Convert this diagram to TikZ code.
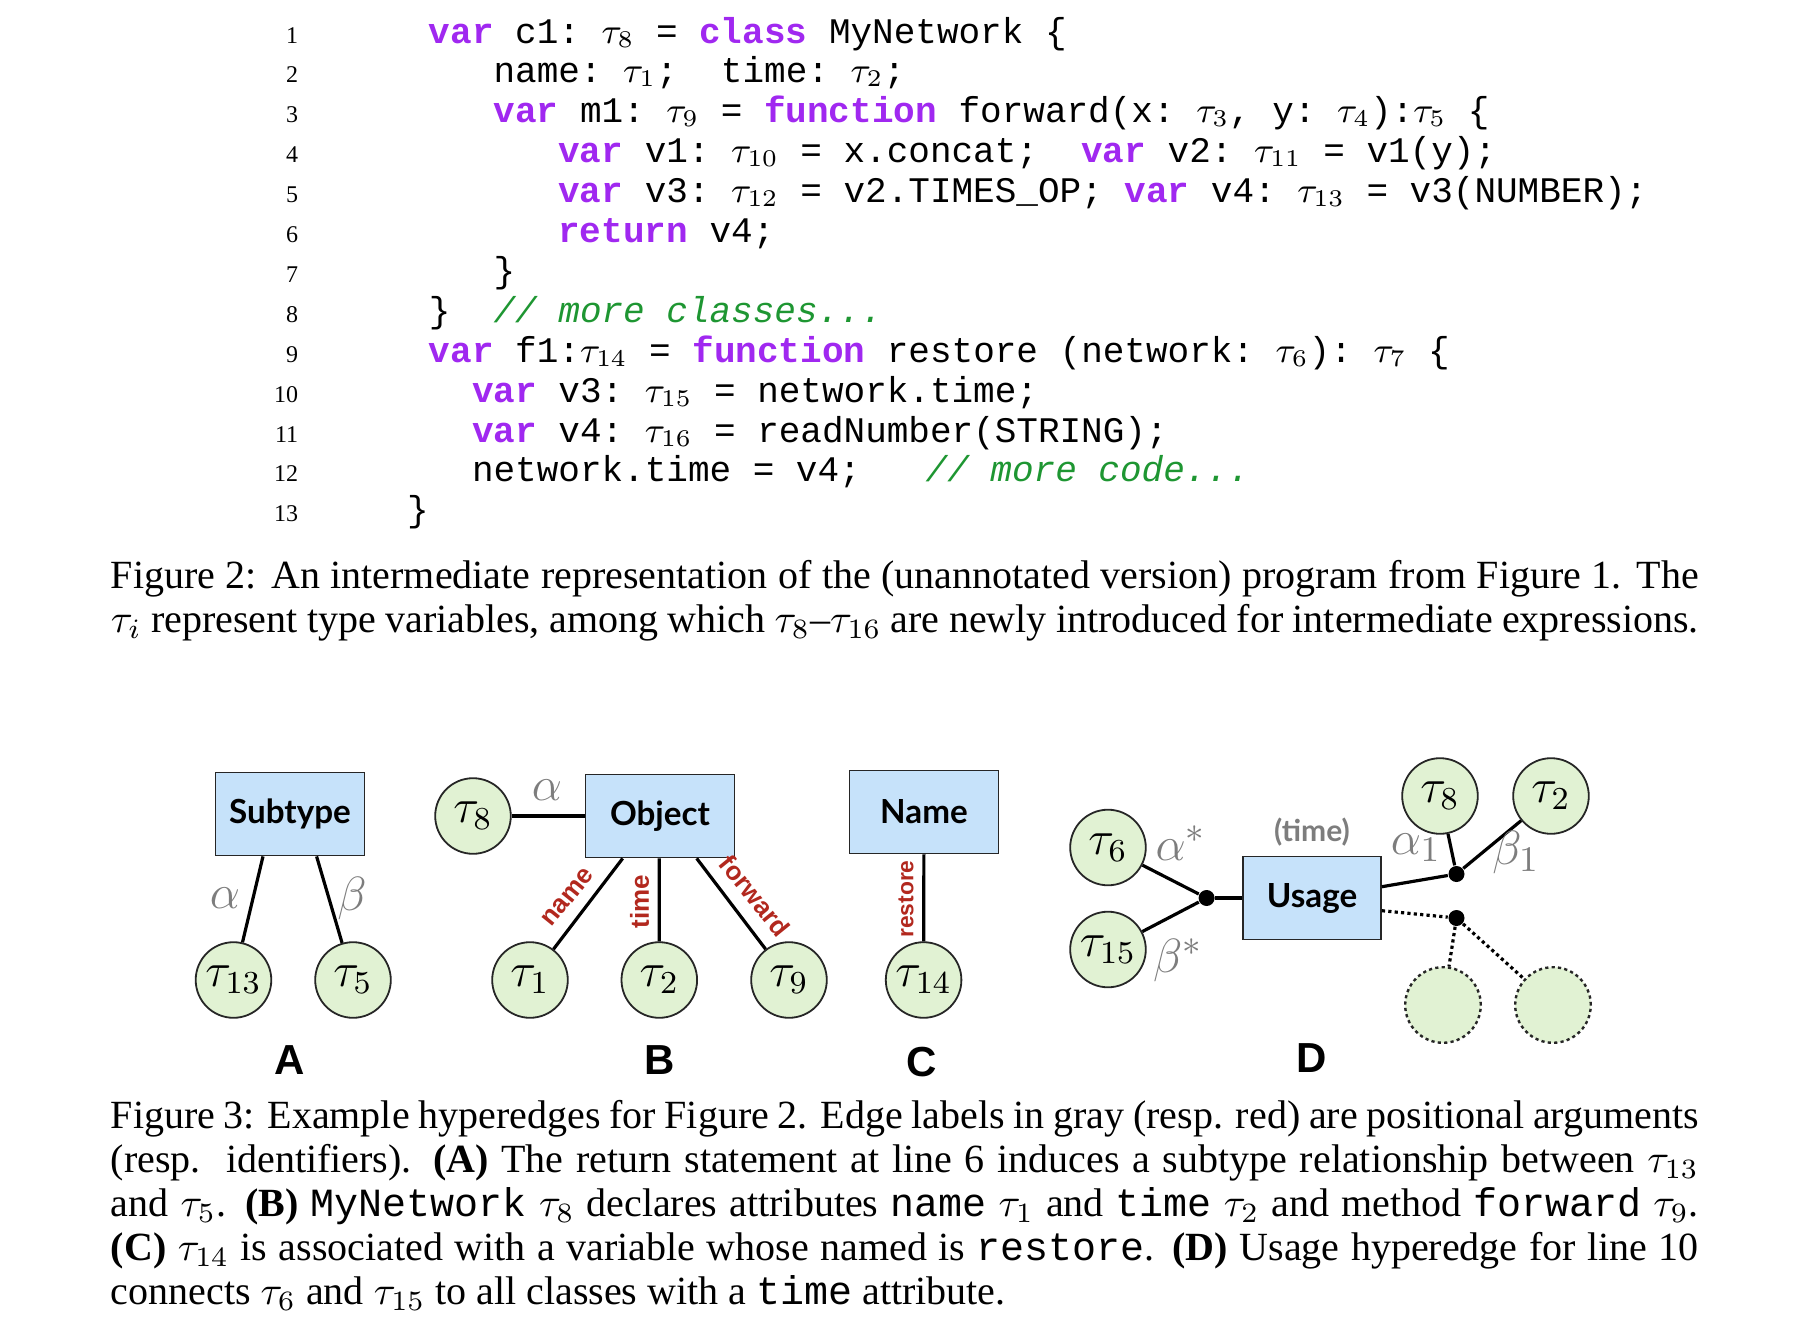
\documentclass[tikz,border=0pt]{standalone}
\usepackage{fontspec}
\setmainfont{Liberation Serif}
\setmonofont{Liberation Mono}
\newfontfamily\diagfont{Lato}
\newfontfamily\helv{Liberation Sans}
\usetikzlibrary{calc}
\definecolor{kwpurple}{RGB}{160,40,240}
\definecolor{cmtgreen}{RGB}{30,150,50}
\definecolor{lblred}{RGB}{178,40,30}
\definecolor{boxblue}{RGB}{198,226,250}
\definecolor{tvgreen}{RGB}{225,242,211}
\definecolor{lblgray}{RGB}{125,125,125}
\newcommand{\kw}[1]{\textcolor{kwpurple}{\textbf{#1}}}
\newcommand{\cmt}[1]{\textcolor{cmtgreen}{\textit{#1}}}
\begin{document}
\begin{tikzpicture}[x=0.25pt,y=-0.25pt,
 codeline/.style={anchor=base west,inner sep=0,font=\fontsize{9}{10}\ttfamily},
 lnum/.style={anchor=base east,inner sep=0,font=\fontsize{6}{7}\selectfont},
 capline/.style={anchor=base west,inner sep=0,font=\fontsize{10}{11}\selectfont},
 hbox/.style={draw=black!85,line width=0.45pt,fill=boxblue,minimum width=37.25pt,minimum height=20.75pt,inner sep=0,font=\diagfont\bfseries\fontsize{8.3}{9}\selectfont},
 tv/.style={circle,draw=black!85,line width=0.45pt,fill=tvgreen,minimum size=18.9pt,inner sep=0,font=\fontsize{12}{12}\selectfont},
 ghost/.style={circle,draw=black!85,line width=0.6pt,dash pattern=on 0.8pt off 0.8pt,fill=tvgreen,minimum size=18.9pt,inner sep=0},
 hedge/.style={line width=0.8pt},
 dedge/.style={line width=0.8pt,dash pattern=on 0.8pt off 0.8pt},
 hdot/.style={circle,fill=black,inner sep=0,minimum size=4pt},
 glbl/.style={text=lblgray,inner sep=0,font=\fontsize{13}{13}\selectfont},
 rlbl/.style={text=lblred,inner sep=0,font=\helv\bfseries\fontsize{6.5}{7}\selectfont},
 tlbl/.style={text=lblgray,inner sep=0,font=\diagfont\bfseries\fontsize{7.5}{8}\selectfont},
 panel/.style={inner sep=0,font=\helv\bfseries\fontsize{10.5}{11}\selectfont},
]
\useasboundingbox (0,0) rectangle (1804,1318);

% ---- code listing ----
\node[lnum] (n1) at (299,43.0) {1};
\node[lnum] (n2) at (299,82.9) {2};
\node[lnum] (n3) at (299,122.8) {3};
\node[lnum] (n4) at (299,162.7) {4};
\node[lnum] (n5) at (299,202.6) {5};
\node[lnum] (n6) at (299,242.5) {6};
\node[lnum] (n7) at (299,282.4) {7};
\node[lnum] (n8) at (299,322.3) {8};
\node[lnum] (n9) at (299,362.2) {9};
\node[lnum] (n10) at (299,402.1) {10};
\node[lnum] (n11) at (299,442.0) {11};
\node[lnum] (n12) at (299,481.9) {12};
\node[lnum] (n13) at (299,521.8) {13};

\node[codeline] (c1) at (428,43.0) {\kw{var} c1: $\tau_8$ = \kw{class} MyNetwork \{};
\node[codeline] (c2) at (492.8,82.9) {name: $\tau_1$;~ time: $\tau_2$;};
\node[codeline] (c3) at (492.8,122.8) {\kw{var} m1: $\tau_9$ = \kw{function} forward(x: $\tau_3$, y: $\tau_4$):$\tau_5$ \{};
\node[codeline] (c4) at (557.6,162.7) {\kw{var} v1: $\tau_{10}$ = x.concat;~ \kw{var} v2: $\tau_{11}$ = v1(y);};
\node[codeline] (c5) at (557.6,202.6) {\kw{var} v3: $\tau_{12}$ = v2.TIMES\_OP; \kw{var} v4: $\tau_{13}$ = v3(NUMBER);};
\node[codeline] (c6) at (557.6,242.5) {\kw{return} v4;};
\node[codeline] (c7) at (492.8,282.4) {\}};
\node[codeline] (c8) at (428,322.3) {\}~ \cmt{// more classes...}};
\node[codeline] (c9) at (428,362.2) {\kw{var} f1:$\tau_{14}$ = \kw{function} restore (network: $\tau_6$): $\tau_7$ \{};
\node[codeline] (c10) at (471.2,402.1) {\kw{var} v3: $\tau_{15}$ = network.time;};
\node[codeline] (c11) at (471.2,442.0) {\kw{var} v4: $\tau_{16}$ = readNumber(STRING);};
\node[codeline] (c12) at (471.2,481.9) {network.time = v4;~~ \cmt{// more code...}};
\node[codeline] (c13) at (406.4,521.8) {\}};

% ---- caption of Figure 2 ----
\node[capline] (f2a) at (110,588) {\makebox[397pt][s]{Figure 2: An intermediate representation of the (unannotated version) program from Figure 1. The}};
\node[capline] (f2b) at (110,632) {\makebox[397pt][s]{$\tau_i$ represent type variables, among which $\tau_8$--$\tau_{16}$ are newly introduced for intermediate expressions.}};

% ---- panel A ----
\node[hbox] (sub) at (290,814) {Subtype};
\node[tv] (t13) at (233.5,980) {$\tau_{13}$};
\node[tv] (t5) at (353,980) {$\tau_5$};
\draw[hedge] ($(sub.south)+(-27,0)$) -- (t13);
\draw[hedge] ($(sub.south)+(26.6,0)$) -- (t5);
\node[glbl] (aA) at (225,898) {$\alpha$};
\node[glbl] (bA) at (352,898) {$\beta$};
\node[panel] (pA) at (290,1060) {A};

% ---- panel B ----
\node[tv] (t8) at (473,816) {$\tau_8$};
\node[hbox] (obj) at (660,816) {Object};
\draw[hedge] (t8) -- (obj);
\node[glbl] (aB) at (547,790) {$\alpha$};
\node[tv] (t1) at (530,980) {$\tau_1$};
\node[tv] (t2) at (659.3,980) {$\tau_2$};
\node[tv] (t9) at (789,980) {$\tau_9$};
\draw[hedge] ($(obj.south)+(-37.3,0)$) -- (t1);
\draw[hedge] ($(obj.south)+(-0.7,0)$) -- (t2);
\draw[hedge] ($(obj.south)+(36.7,0)$) -- (t9);
\node[rlbl,rotate=51] (lname) at (568,897) {name};
\node[rlbl,rotate=90] (ltime) at (639.5,901.5) {time};
\node[rlbl,rotate=-51] (lfwd) at (755,896) {forward};
\node[panel] (pB) at (659.5,1060) {B};

% ---- panel C ----
\node[hbox] (nam) at (924,812) {Name};
\node[tv] (t14) at (923.6,980) {$\tau_{14}$};
\draw[hedge] (nam) -- (t14);
\node[rlbl,rotate=90,font=\helv\bfseries\fontsize{5.7}{6}\selectfont] (lrest) at (906,899) {restore};
\node[panel] (pC) at (922,1062) {C};

% ---- panel D ----
\node[tv] (t6) at (1108,847.5) {$\tau_6$};
\node[tv] (t15) at (1108,949.5) {$\tau_{15}$};
\node[hdot] (d1) at (1206.6,898) {};
\node[hbox,minimum width=34.5pt] (use) at (1312,898) {Usage};
\node[hdot] (d2) at (1456.5,874) {};
\node[hdot] (d3) at (1456.5,918) {};
\node[tv] (t8d) at (1440,796) {$\tau_8$};
\node[tv] (t2d) at (1551,796) {$\tau_2$};
\node[ghost] (g1) at (1443,1005) {};
\node[ghost] (g2) at (1553,1005) {};
\draw[hedge] (t6) -- (d1);
\draw[hedge] (t15) -- (d1);
\draw[hedge] (d1) -- (use);
\draw[hedge] ($(use.east)+(0,-11.3)$) -- (d2);
\draw[hedge] (d2) -- (t8d);
\draw[hedge] (d2) -- (t2d);
\draw[dedge] ($(use.east)+(0,12.7)$) -- (d3);
\draw[dedge] (d3) -- (g1);
\draw[dedge] (d3) -- (g2);
\node[glbl] (as) at (1181,843) {$\alpha^*$};
\node[glbl] (bs) at (1178,960) {$\beta^*$};
\node[glbl] (a1) at (1416,848) {$\alpha_1$};
\node[glbl] (b1) at (1516,852) {$\beta_1$};
\node[tlbl] (ltm) at (1312,832) {(time)};
\node[panel] (pD) at (1312,1058) {D};

% ---- caption of Figure 3 ----
\node[capline] (f3a) at (110,1128) {\makebox[397pt][s]{Figure 3: Example hyperedges for Figure 2. Edge labels in gray (resp. red) are positional arguments}};
\node[capline] (f3b) at (110,1172) {\makebox[397pt][s]{(resp.\ \ identifiers). \textbf{(A)} The return statement at line 6 induces a subtype relationship between $\tau_{13}$}};
\node[capline] (f3c) at (110,1216) {\makebox[397pt][s]{and $\tau_5$. \textbf{(B)} \texttt{MyNetwork} $\tau_8$ declares attributes \texttt{name} $\tau_1$ and \texttt{time} $\tau_2$ and method \texttt{forward} $\tau_9$.}};
\node[capline] (f3d) at (110,1260) {\makebox[397pt][s]{\textbf{(C)} $\tau_{14}$ is associated with a variable whose named is \texttt{restore}. \textbf{(D)} Usage hyperedge for line 10}};
\node[capline] (f3e) at (110,1304) {connects $\tau_6$ and $\tau_{15}$ to all classes with a \texttt{time} attribute.};
\end{tikzpicture}
\end{document}
